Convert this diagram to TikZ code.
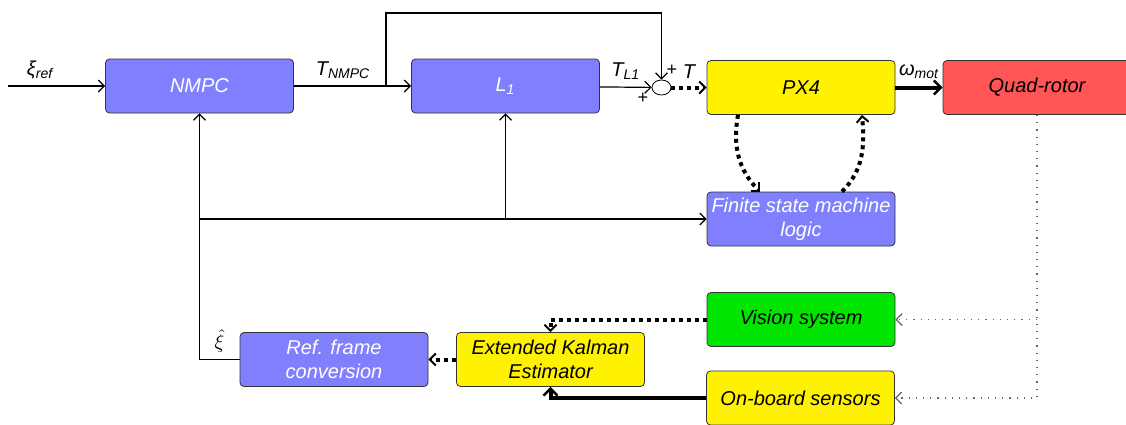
\documentclass[tikz,border=0pt]{standalone}
\usepackage{fontspec}
\setmainfont{Liberation Sans}
\usetikzlibrary{arrows.meta,shapes.geometric,calc}
\definecolor{blockblue}{HTML}{8080FF}
\definecolor{quadred}{HTML}{FF5555}
\definecolor{visiongreen}{HTML}{00E600}

\begin{document}
\begin{tikzpicture}[x=0.5pt, y=-0.5pt, font=\itshape,
  block/.style={draw=black!80, rounded corners=2pt, minimum width=94pt, minimum height=27pt, inner sep=1pt, align=center},
  blue block/.style={block, fill=blockblue, text=white},
  yellow block/.style={block, fill=yellow},
  >={Straight Barb[length=3pt,width=6pt]},
  sig/.style={->, line width=0.6pt},
  fat/.style={-{Straight Barb[length=3.5pt,width=7pt,line width=1.2pt]}, line width=2pt},
  dotfat/.style={-{Straight Barb[length=3pt,width=6pt,line width=1pt]}, line width=2pt, dash pattern=on 2pt off 2pt},
  probe/.style={->, black!60, line width=0.6pt, dash pattern=on 0.6pt off 3pt}]
\useasboundingbox (0,0) rectangle (1126,424);

\node[blue block] (nmpc) at (199.5,86) {NMPC};
\node[blue block] (lone) at (505.5,86) {L\textsubscript{1}};
\node[draw, ellipse, minimum width=9.5pt, minimum height=7.5pt, inner sep=0pt] (sum) at (661.5,87.5) {};
\node[yellow block] (pxf) at (801,87.5) {PX4};
\node[block, fill=quadred] (quad) at (1037,87.5) {Quad-rotor};
\node[blue block] (fsm) at (801,219) {Finite state machine\\logic};
\node[block, fill=visiongreen] (vision) at (801,319.5) {Vision system};
\node[yellow block] (sensors) at (800.5,398) {On-board sensors};
\node[yellow block] (ekf) at (550.5,359.5) {Extended Kalman\\Estimator};
\node[blue block] (refconv) at (334,359.5) {Ref. frame\\conversion};

\coordinate (ref in) at (8,86);
\coordinate (split) at (386,86);
\coordinate (loop top) at (386,13);
\coordinate (fb) at (199.5,219);

\draw[sig] (ref in) -- node[above, pos=.33] {ξ\textsubscript{ref}} (nmpc);
\draw[sig] (nmpc) -- node[above, pos=.42] {T\textsubscript{NMPC}} (lone);
\draw[sig] (split) -- (loop top) -| (sum.north);
\draw[sig] (lone) -- node[above] {T\textsubscript{L1}} (sum);
\node[font=\small\upshape] (plus low) at (643,98) {+};
\node[font=\small\upshape] (plus high) at (672,70) {+};
\draw[dotfat] (sum) -- node[above] {T} (pxf);
\draw[fat] (pxf) -- node[above] {ω\textsubscript{mot}} (quad);
\draw[dotfat] ($(pxf.south)+(-63,0)$) to[out=-100,in=135] ($(fsm.north)+(-41,0)$);
\draw[dotfat] ($(fsm.north)+(41,0)$) to[out=45,in=-85] ($(pxf.south)+(61,0)$);
\draw[sig] (refconv) -| node[above, pos=.25] {$\hat{\xi}$} (nmpc);
\draw[sig] (fb) -- (fsm);
\draw[sig] (lone |- fb) -- (lone);
\draw[dotfat] (ekf) -- (refconv);
\draw[dotfat] (vision) -| (ekf);
\draw[fat] (sensors) -| (ekf);
\draw[probe] (quad) |- (sensors);
\draw[probe] (quad |- vision) -- (vision);
\end{tikzpicture}
\end{document}
